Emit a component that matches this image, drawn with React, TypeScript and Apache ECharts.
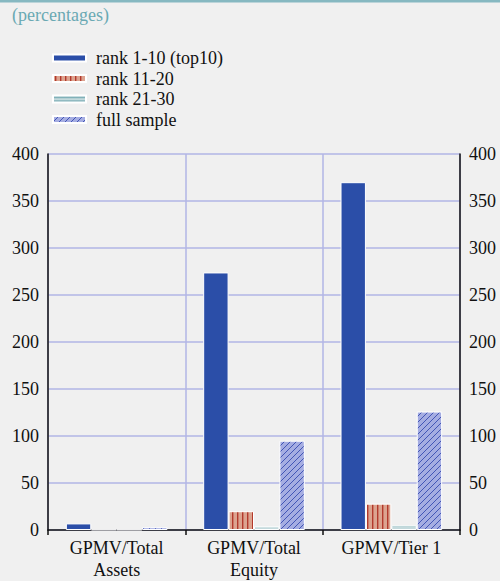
import React, { useEffect, useRef } from "react";
import * as echarts from "echarts";

const categories = ["GPMV/Total\nAssets", "GPMV/Total\nEquity", "GPMV/Tier 1"];
const seriesNames = ["rank 1-10 (top10)", "rank 11-20", "rank 21-30", "full sample"];
const top10 = [7, 274, 370];
const rank11to20 = [0.4, 20, 28];
const rank21to30 = [0.4, 4, 5];
const fullSample = [3, 95, 126];
const yTicks = [0, 50, 100, 150, 200, 250, 300, 350, 400];

function makePattern(kind: string): any {
  const c = document.createElement("canvas");
  const ctx = c.getContext("2d")!;
  if (kind === "red") {
    c.width = 5; c.height = 4;
    ctx.fillStyle = "#dca38f"; ctx.fillRect(0, 0, 5, 4);
    ctx.fillStyle = "#b3392b"; ctx.fillRect(2, 0, 1.4, 4);
  } else if (kind === "teal") {
    c.width = 4; c.height = 4;
    ctx.fillStyle = "#c3d9dc"; ctx.fillRect(0, 0, 4, 4);
    ctx.fillStyle = "#5e9ba6"; ctx.fillRect(0, 1, 4, 1.3);
  } else {
    c.width = 6; c.height = 6;
    ctx.fillStyle = "#a5ade2"; ctx.fillRect(0, 0, 6, 6);
    ctx.strokeStyle = "#4356b6"; ctx.lineWidth = 1;
    ctx.beginPath();
    ctx.moveTo(0, 6); ctx.lineTo(6, 0);
    ctx.moveTo(-1, 1); ctx.lineTo(1, -1);
    ctx.moveTo(5, 7); ctx.lineTo(7, 5);
    ctx.stroke();
  }
  return { image: c, repeat: "repeat" };
}

export default function App() {
  const ref = useRef<HTMLDivElement>(null);
  useEffect(() => {
    document.body.style.margin = "0";
    const chart = echarts.init(ref.current!, null, { renderer: "svg" });
    const font = "'Liberation Serif', 'Times New Roman', serif";
    const gridColor = "#b2b6e6";
    const colors = ["#2b4ea8", makePattern("red"), makePattern("teal"), makePattern("hatch")];
    const dataSets = [top10, rank11to20, rank21to30, fullSample];
    const yAxisCommon = {
      type: "value",
      min: yTicks[0],
      max: yTicks[yTicks.length - 1],
      interval: 50,
      axisLine: { show: true, lineStyle: { color: "#111", width: 1.5 } },
      axisTick: { show: false },
      axisLabel: { color: "#111", fontSize: 18, fontFamily: font, margin: 9 },
    };
    chart.setOption({
      animation: false,
      backgroundColor: "#f0f0f0",
      textStyle: { fontFamily: font },
      graphic: [
        { type: "rect", left: 0, top: 0, shape: { width: 500, height: 2.5 }, style: { fill: "#86b8c1" } },
        { type: "text", left: 12, top: 6, style: { text: "(percentages)", fill: "#6aa9b3", fontSize: 18, fontFamily: font } },
      ],
      legend: {
        orient: "vertical",
        left: 47,
        top: 44,
        itemWidth: 33,
        itemHeight: 7,
        itemGap: 2.5,
        icon: "rect",
        data: seriesNames,
        textStyle: { color: "#111", fontSize: 18, fontFamily: font, padding: [0, 0, 0, 5] },
      },
      grid: { left: 48, right: 40, top: 154, bottom: 50 },
      xAxis: {
        type: "category",
        data: categories,
        axisLine: { show: true, lineStyle: { color: "#111", width: 1.5 } },
        axisTick: { show: true, length: 5, lineStyle: { color: "#111", width: 1.5 } },
        axisLabel: { color: "#111", fontSize: 18, fontFamily: font, lineHeight: 22, margin: 7 },
        splitLine: { show: true, lineStyle: { color: gridColor, width: 1.5 } },
      },
      yAxis: [
        { ...yAxisCommon, position: "left", splitLine: { show: true, lineStyle: { color: gridColor, width: 1.5 } } },
        { ...yAxisCommon, position: "right", splitLine: { show: false } },
      ],
      series: seriesNames.map((name, i) => ({
        name,
        type: "bar",
        data: dataSets[i],
        barGap: "0%",
        barCategoryGap: "26%",
        itemStyle: { color: colors[i], borderColor: "#ffffff", borderWidth: 1 },
      })),
    });
    return () => chart.dispose();
  }, []);
  return <div ref={ref} style={{ width: 500, height: 581, position: "absolute", left: 0, top: 0 }} />;
}
